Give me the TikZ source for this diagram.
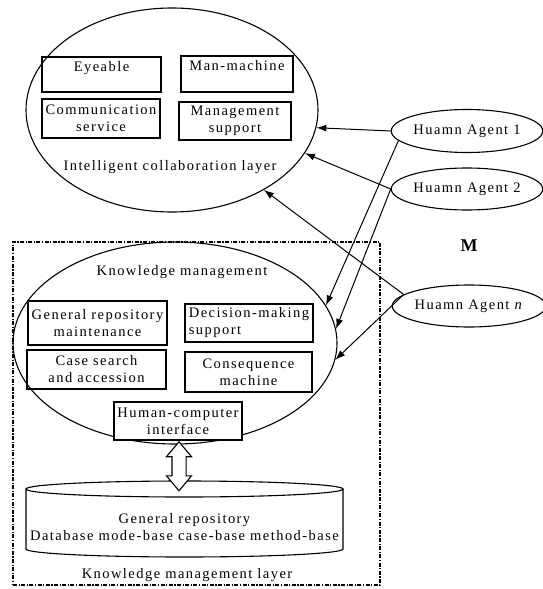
\documentclass[tikz,border=0pt]{standalone}
\usepackage{fontspec}
\setmainfont{Liberation Serif}
\newfontfamily\lsfont[LetterSpace=10]{Liberation Serif}
\usetikzlibrary{shapes.geometric,shapes.arrows,arrows.meta,calc}
\begin{document}
\begin{tikzpicture}[x=1pt,y=-1pt,
  txt/.style={font=\lsfont\fontsize{14.5}{17}\selectfont, inner sep=0pt},
  bx/.style={txt, draw, line width=1.1pt, align=center, inner sep=1pt},
  big/.style={draw, ellipse, line width=1.1pt, inner sep=0pt},
  agent/.style={draw, ellipse, line width=1.1pt, txt, inner sep=0pt},
  arr/.style={line width=1pt, -{Latex[length=10pt,width=7pt]}},
  dashdotbox/.style={draw, line width=1.1pt, dash pattern=on 4pt off 1.5pt on 1.2pt off 1.5pt}
]
\useasboundingbox (0,0) rectangle (543,589);

% layer box
\node[dashdotbox, minimum width=367pt, minimum height=343pt, inner sep=0pt] (kmlayer) at (196.5,413.5) {};

% top ellipse
\node[big, minimum width=292pt, minimum height=204pt] (top) at (172,110) {};
\node[bx, minimum width=119pt, minimum height=35pt] (eye) at (101.5,74.5) {Eyeable\\\mbox{}};
\node[bx, minimum width=112pt, minimum height=36pt] (man) at (237,74) {Man-machine\\\mbox{}};
\node[bx, minimum width=118pt, minimum height=39pt] (comm) at (101,118.5) {Communication\\service};
\node[bx, minimum width=112pt, minimum height=38pt] (mgmt) at (235,121) {Management\\support};
\node[txt] (toplbl) at (170,167) {Intelligent collaboration layer};

% knowledge management ellipse
\node[big, minimum width=324pt, minimum height=202pt] (km) at (175,343) {};
\node[txt] (kmlbl) at (182,272) {Knowledge management};
\node[bx, minimum width=139pt, minimum height=44pt] (grm) at (97.5,323) {General repository\\maintenance};
\node[bx, minimum width=128pt, minimum height=38pt, align=left] (dms) at (249,323) {Decision-making\\support};
\node[bx, minimum width=139pt, minimum height=39pt] (css) at (96.5,369.5) {Case search\\and accession};
\node[bx, minimum width=127pt, minimum height=40pt] (cm) at (248.5,372) {Consequence\\machine};
\node[bx, minimum width=128pt, minimum height=38pt, fill=white] (hci) at (178,421) {Human-computer\\interface};

% repository cylinder
\draw[line width=1.1pt] (26,489) -- (26,549) arc[start angle=180, end angle=0, x radius=158.5, y radius=8] -- (343,489);
\draw[line width=1.1pt] (184.5,489) ellipse [x radius=158.5, y radius=8];
\coordinate (cyltop) at (180,492);
\node[txt, align=center] (repo) at (184.5,527) {General repository\\Database mode-base case-base method-base};
\node[txt] (kmlayerlbl) at (187,575) {Knowledge management layer};

% double arrow
\node[double arrow, draw, fill=white, line width=1.1pt, minimum height=49pt, minimum width=0pt,
      double arrow head extend=5.5pt, double arrow tip angle=80, inner xsep=0pt, inner ysep=6.5pt, rotate=90]
      (dbl) at ($(hci.south)!0.5!(cyltop)$) {};

% agents
\node[agent, minimum width=148pt, minimum height=43pt] (a1) at (467,131) {Huamn Agent 1};
\node[agent, minimum width=150pt, minimum height=42pt] (a2) at (467,189) {Huamn Agent 2};
\node[agent, minimum width=142pt, minimum height=42pt] (an) at (469,306) {Huamn Agent \textit{n}};
\node[font=\bfseries\fontsize{18}{20}\selectfont] (m) at (469,246) {M};

% connectors
\draw[arr] (a1.west) -- (top.-7);
\draw[arr] (a2.west) -- (top.-18);
\draw[arr] (an.170) -- (top.-41);
\draw[arr] (a1.188) -- (km.14);
\draw[arr] (a2.west) -- (km.5);
\draw[arr] (an.170) -- (km.-6);
\end{tikzpicture}
\end{document}
